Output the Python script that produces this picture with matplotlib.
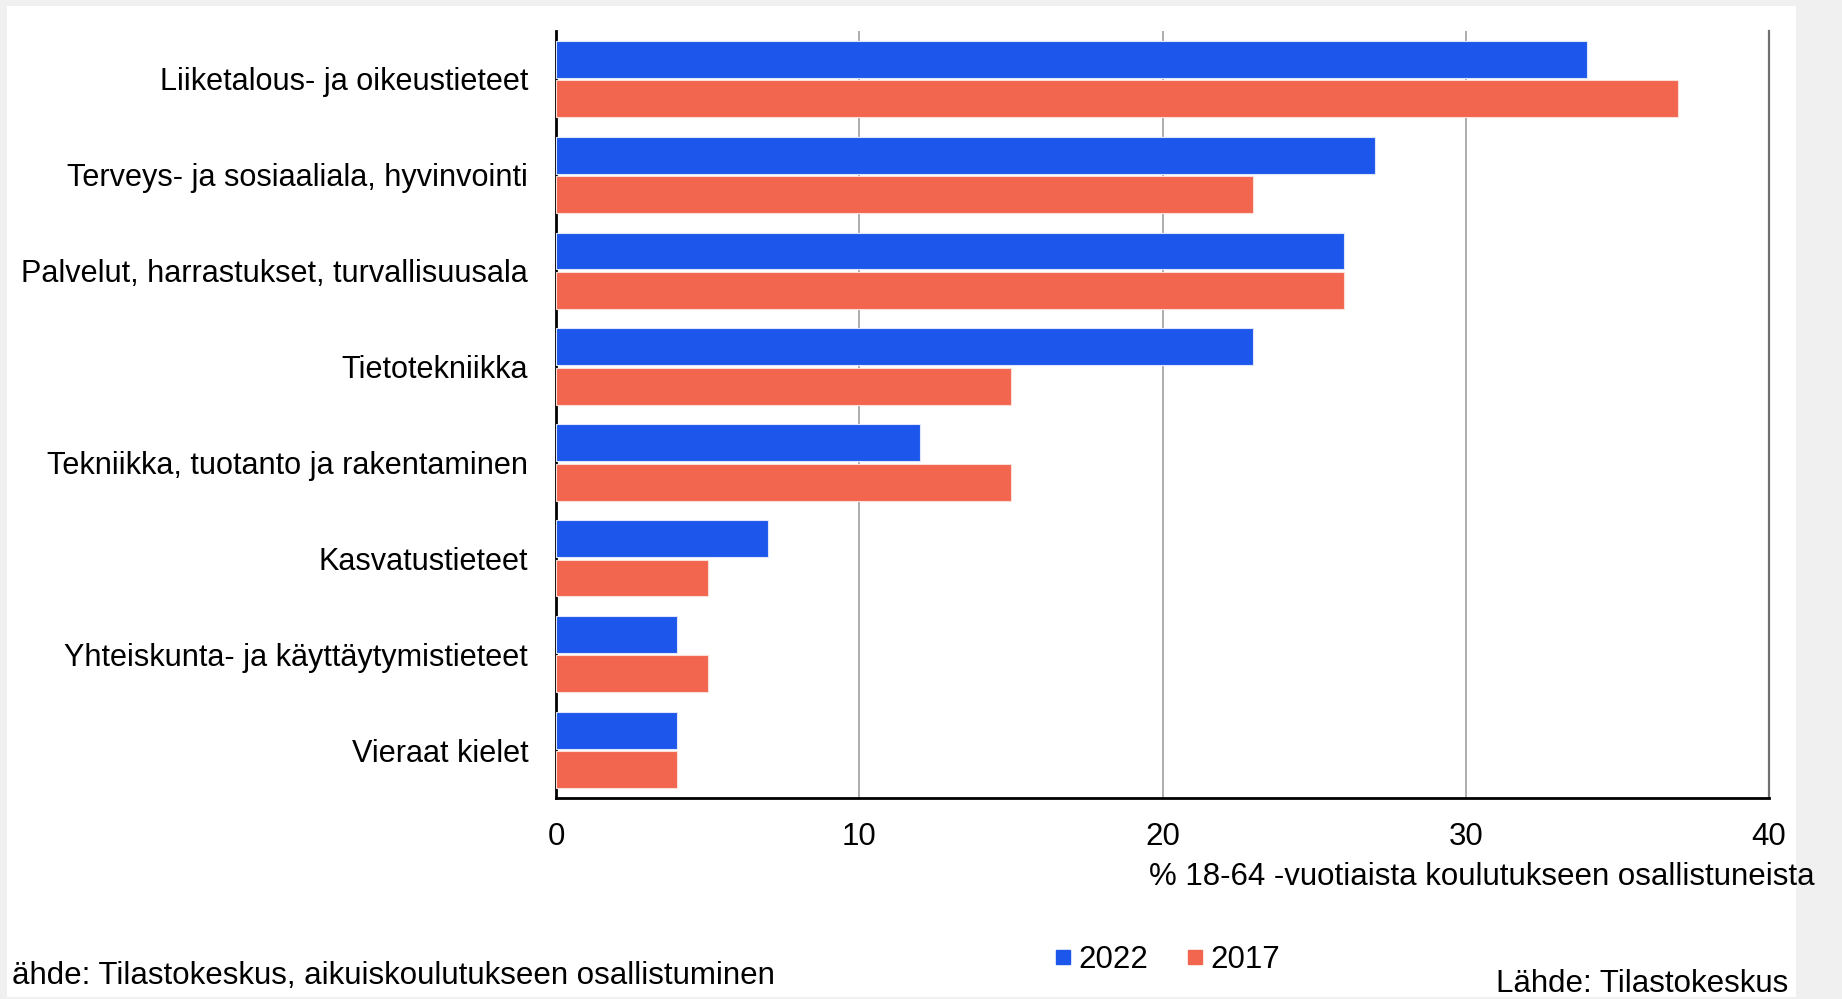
import matplotlib.pyplot as plt
from matplotlib.patches import Rectangle
from matplotlib.lines import Line2D
import numpy as np

plt.rcParams['font.family'] = ['Liberation Sans', 'DejaVu Sans']

categories = [
    "Liiketalous- ja oikeustieteet",
    "Terveys- ja sosiaaliala, hyvinvointi",
    "Palvelut, harrastukset, turvallisuusala",
    "Tietotekniikka",
    "Tekniikka, tuotanto ja rakentaminen",
    "Kasvatustieteet",
    "Yhteiskunta- ja käyttäytymistieteet",
    "Vieraat kielet",
]
values_2022 = [34, 27, 26, 23, 12, 7, 4, 4]
values_2017 = [37, 23, 26, 15, 15, 5, 5, 4]
x_ticks = [0, 10, 20, 30, 40]

blue = "#1c56ea"
red = "#f2654e"
FS = 22.5

W, H = 1842, 999
fig = plt.figure(figsize=(W / 100, H / 100), dpi=100, facecolor="#f0f0f0")
fig.patches.append(Rectangle((7 / W, 1 - 997 / H), (1796 - 7) / W, (997 - 6) / H,
                             transform=fig.transFigure, facecolor="white",
                             edgecolor="none", zorder=-5))

ax = fig.add_axes([556 / W, 1 - 798 / H, (1769 - 556) / W, (798 - 31) / H])
ax.set_facecolor("none")

y = np.arange(len(categories))
h = 0.385
ax.barh(y - 0.205, values_2022, height=h, color=blue, edgecolor="#dfe6fb",
        linewidth=0.8, zorder=3)
ax.barh(y + 0.205, values_2017, height=h, color=red, edgecolor="#fbded8",
        linewidth=0.8, zorder=3)

ax.set_ylim(len(categories) - 0.5, -0.5)
ax.set_xlim(0, 40)
ax.set_yticks(y)
ax.set_yticklabels(categories, fontsize=22.1)
ax.set_xticks(x_ticks)
ax.set_xticklabels([str(t) for t in x_ticks], fontsize=FS)
ax.tick_params(axis="y", length=0, pad=20)
ax.tick_params(axis="x", length=0, pad=17)

for t in x_ticks[1:-1]:
    ax.axvline(t, color="#a0a0a0", linewidth=1.2, zorder=1)

ax.spines["top"].set_visible(False)
ax.spines["right"].set_color("#707070")
ax.spines["right"].set_linewidth(1.6)
ax.spines["left"].set_color("black")
ax.spines["left"].set_linewidth(2)
ax.spines["bottom"].set_color("black")
ax.spines["bottom"].set_linewidth(2)

fig.text(1149 / W, 1 - 877 / H, "% 18-64 -vuotiaista koulutukseen osallistuneista",
         fontsize=FS, ha="left", va="center")

handles = [Line2D([], [], marker="s", linestyle="none", color=blue, markersize=10),
           Line2D([], [], marker="s", linestyle="none", color=red, markersize=10)]
fig.legend(handles, ["2022", "2017"], loc="center left",
           bbox_to_anchor=(1022 / W, 1 - 960 / H), ncol=2, frameon=False,
           fontsize=FS, handletextpad=0.1, columnspacing=1.1, handlelength=0.8)

fig.text(12 / W, 1 - 976 / H, "ähde: Tilastokeskus, aikuiskoulutukseen osallistuminen",
         fontsize=FS, ha="left", va="center")
fig.text(1788 / W, 1 - 984 / H, "Lähde: Tilastokeskus",
         fontsize=FS, ha="right", va="center")

fig.savefig("out.png", dpi=100, facecolor=fig.get_facecolor())
